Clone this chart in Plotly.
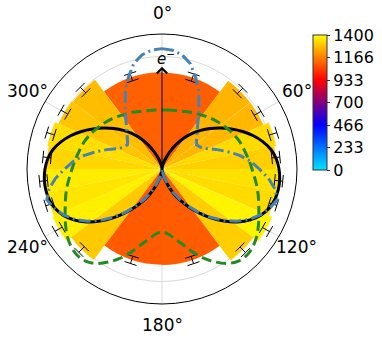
"""Polar angular distribution: histogram in cos(theta) with dipole / model / measured curves."""

import numpy as np
import plotly.graph_objects as go

# histogram bins are uniform in cos(theta), shown on both sides of the beam axis
cos_edges = [1.0, 0.8, 0.6, 0.4, 0.2, 0.0, -0.2, -0.4, -0.6, -0.8, -1.0]
counts_right = [1105, 1265, 1268, 1335, 1312, 1345, 1335, 1380, 1310, 1100]
counts_left = [1110, 1280, 1295, 1340, 1325, 1365, 1352, 1372, 1305, 1098]
errors_right = [44, 45, 45, 46, 46, 46, 46, 47, 45, 44]
errors_left = [44, 45, 45, 46, 46, 46, 46, 47, 45, 44]
norm = 1290

# curves sampled every 5 degrees from 0 to 180 (mirrored for 180..360)
curve_theta = list(range(0, 185, 5))
dipole_r = [0.0, 0.008, 0.03, 0.065, 0.11, 0.175, 0.25, 0.33, 0.41, 0.485,
            0.56, 0.635, 0.71, 0.79, 0.865, 0.93, 0.985, 1.02, 1.04, 1.05,
            1.05, 1.04, 1.015, 0.97, 0.905, 0.82, 0.72, 0.615, 0.51, 0.41,
            0.32, 0.235, 0.155, 0.09, 0.04, 0.01, 0.0]
model_r = [0.525, 0.526, 0.53, 0.535, 0.545, 0.56, 0.575, 0.59, 0.61, 0.63,
           0.65, 0.67, 0.69, 0.71, 0.73, 0.745, 0.76, 0.78, 0.80, 0.825,
           0.855, 0.885, 0.915, 0.95, 0.99, 1.03, 1.06, 1.075, 1.065, 1.025,
           0.955, 0.875, 0.78, 0.69, 0.625, 0.578, 0.557]
measured_r = [1.07, 1.06, 1.03, 0.97, 0.87, 0.77, 0.655, 0.565, 0.49, 0.44,
              0.40, 0.375, 0.39, 0.43, 0.51, 0.60, 0.70, 0.79, 0.865, 0.95,
              1.02, 1.06, 1.02, 0.965, 0.895, 0.81, 0.71, 0.605, 0.50, 0.40,
              0.31, 0.225, 0.145, 0.08, 0.035, 0.008, 0.0]

cbar_ticks = [0, 233, 466, 700, 933, 1166, 1400]
angle_ticks = [0, 60, 120, 180, 240, 300]

R_MAX = 1.2
ARROW_R = 0.91
W, H = 382, 340
M = dict(l=27, r=85, t=34, b=36, autoexpand=False)
plot_w = W - M["l"] - M["r"]
plot_h = H - M["t"] - M["b"]
LABEL_PAD = 20.5  # px between the outer circle and the centre of an angle label

# bins -> bar geometry
edges = np.degrees(np.arccos(cos_edges))
centers_right = (edges[:-1] + edges[1:]) / 2
widths_right = edges[1:] - edges[:-1]

bar_theta = list(centers_right) + list(360 - centers_right)
bar_width = list(widths_right) * 2
bar_counts = counts_right + counts_left
bar_errs = errors_right + errors_left
bar_r = [c / norm for c in bar_counts]


def mirrored(theta, r):
    full_t = list(theta) + [360 - t for t in reversed(theta)]
    full_r = list(r) + list(reversed(r))
    return full_t, full_r


fig = go.Figure()

fig.add_trace(go.Barpolar(
    r=bar_r, theta=bar_theta, width=bar_width,
    marker=dict(
        color=bar_counts, cmin=0, cmax=1400,
        colorscale=[[0, "#00e5ff"], [1 / 3, "#0000ff"], [2 / 3, "#ff0000"], [1, "#ffff00"]],
        line=dict(width=0),
        colorbar=dict(
            x=(312.5 - M["l"]) / plot_w, xanchor="left", xpad=0,
            y=0.996, yanchor="top", ypad=0, len=0.5, lenmode="fraction",
            thickness=14, outlinewidth=1, outlinecolor="#333",
            tickvals=cbar_ticks, ticktext=[str(v) for v in cbar_ticks],
            ticks="outside", ticklen=3, tickcolor="#333",
            tickfont=dict(size=16, color="black"),
        ),
    ),
    showlegend=False,
))

# error bars on the histogram
eb_t, eb_r, cap_t, cap_r = [], [], [], []
for t, c, e in zip(bar_theta, bar_counts, bar_errs):
    eb_t += [t, t, None]
    eb_r += [(c - e) / norm, (c + e) / norm, None]
    cap_t += [t, t]
    cap_r += [(c - e) / norm, (c + e) / norm]
fig.add_trace(go.Scatterpolar(r=eb_r, theta=eb_t, mode="lines",
                              line=dict(color="black", width=1), showlegend=False))
fig.add_trace(go.Scatterpolar(
    r=cap_r, theta=cap_t, mode="markers", showlegend=False,
    marker=dict(symbol="line-ew", size=9, angle=cap_t,
                line=dict(color="black", width=1)),
))

t, r = mirrored(curve_theta, dipole_r)
fig.add_trace(go.Scatterpolar(r=r, theta=t, mode="lines", showlegend=False,
                              line=dict(color="black", width=3, shape="spline")))
t, r = mirrored(curve_theta, model_r)
fig.add_trace(go.Scatterpolar(r=r, theta=t, mode="lines", showlegend=False,
                              line=dict(color="#228b22", width=3, dash="10px,5px",
                                        shape="spline")))
t, r = mirrored(curve_theta, measured_r)
fig.add_trace(go.Scatterpolar(r=r, theta=t, mode="lines", showlegend=False,
                              line=dict(color="#4682b4", width=3,
                                        dash="12px,4px,2px,4px")))

# electron direction arrow
tip_y = 0.5 + 0.5 * ARROW_R / R_MAX
fig.add_annotation(x=0.5, y=tip_y, xref="paper", yref="paper",
                   ax=0, ay=ARROW_R / R_MAX * plot_h / 2, text="",
                   showarrow=True, arrowhead=4, arrowsize=2, arrowwidth=1,
                   arrowcolor="black", standoff=0)
fig.add_annotation(x=0.5, y=tip_y, xref="paper", yref="paper",
                   text="<i>e</i><sup>−</sup>", showarrow=False,
                   xanchor="center", yanchor="bottom", xshift=4, yshift=-3,
                   font=dict(size=15, color="black"))

# angle labels centred just outside the circle (matplotlib style)
label_r = plot_h / 2 + LABEL_PAD
for a in angle_ticks:
    fig.add_annotation(
        x=0.5 + label_r * np.sin(np.radians(a)) / plot_w,
        y=0.5 + label_r * np.cos(np.radians(a)) / plot_h,
        xref="paper", yref="paper", text=f"{a}°", showarrow=False,
        xanchor="center", yanchor="middle", font=dict(size=17, color="black"),
    )

fig.update_layout(
    width=W, height=H,
    margin=M,
    paper_bgcolor="white",
    font=dict(family="DejaVu Sans", color="black"),
    polar=dict(
        bgcolor="white",
        radialaxis=dict(range=[0, R_MAX], dtick=0.2, showticklabels=False,
                        ticks="", showline=False, gridcolor="#d9d9d9", gridwidth=0.8,
                        layer="above traces"),
        angularaxis=dict(rotation=90, direction="clockwise",
                         tickvals=angle_ticks, showticklabels=False, ticks="",
                         showline=True, linecolor="black", linewidth=1,
                         gridcolor="#d9d9d9", gridwidth=0.8,
                         layer="above traces"),
    ),
)

# the page body would otherwise add an 8px offset around the figure
fig.write_html("out.html", config={"displayModeBar": False},
               post_script="document.body.style.margin = '0';")
